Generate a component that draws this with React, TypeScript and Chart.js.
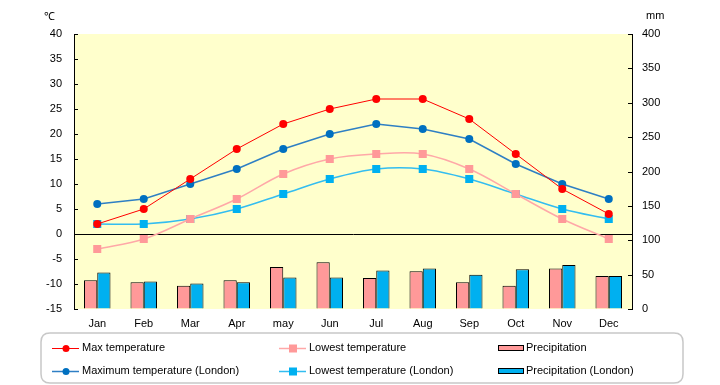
import React, { useEffect, useRef } from "react";
import { Chart, registerables } from "chart.js";

Chart.register(...registerables);

const months = ["Jan", "Feb", "Mar", "Apr", "may", "Jun", "Jul", "Aug", "Sep", "Oct", "Nov", "Dec"];
const maxTemp = [2, 5, 11, 17, 22, 25, 27, 27, 23, 16, 9, 4];
const lowTemp = [-3, -1, 3, 7, 12, 15, 16, 16, 13, 8, 3, -1];
const precip = [42, 39, 34, 42, 61, 68, 45, 55, 39, 34, 59, 48];
const londonMax = [6, 7, 10, 13, 17, 20, 22, 21, 19, 14, 10, 7];
const londonLow = [2, 2, 3, 5, 8, 11, 13, 13, 11, 8, 5, 3];
const londonPrecip = [53, 40, 37, 39, 46, 46, 56, 59, 50, 58, 64, 48];

const tempMin = -15;
const tempMax = 40;
const tempStep = 5;
const precipMin = 0;
const precipMax = 400;
const precipStep = 50;

const FONT = "'Liberation Sans', Arial, sans-serif";

const bgPlugin = {
  id: "plotBg",
  beforeDraw(chart: any) {
    const { ctx, chartArea } = chart;
    ctx.save();
    ctx.fillStyle = "#FFFFCC";
    ctx.fillRect(chartArea.left, chartArea.top, chartArea.right - chartArea.left, chartArea.bottom - chartArea.top);
    ctx.restore();
  },
};

const extrasPlugin = {
  id: "extras",
  afterDraw(chart: any) {
    const { ctx, chartArea } = chart;
    ctx.save();
    // inward tick marks
    ctx.strokeStyle = "#000";
    ctx.lineWidth = 1;
    const y = chart.scales.y;
    const y1 = chart.scales.y1;
    y.ticks.forEach((t: any) => {
      const p = Math.round(y.getPixelForValue(t.value)) + 0.5;
      ctx.beginPath();
      ctx.moveTo(chartArea.left, p);
      ctx.lineTo(chartArea.left + 4, p);
      ctx.stroke();
    });
    y1.ticks.forEach((t: any) => {
      const p = Math.round(y1.getPixelForValue(t.value)) + 0.5;
      ctx.beginPath();
      ctx.moveTo(chartArea.right, p);
      ctx.lineTo(chartArea.right - 4, p);
      ctx.stroke();
    });
    // unit labels
    ctx.fillStyle = "#000";
    ctx.font = `11px ${FONT}`;
    ctx.textBaseline = "middle";
    ctx.textAlign = "left";
    ctx.fillText("℃", 44, 17);
    ctx.fillText("mm", 646, 16);

    // legend box
    ctx.strokeStyle = "#C8C8C8";
    ctx.lineWidth = 1.5;
    const bx = 41, by = 333, bw = 642, bh = 50, r = 9;
    ctx.beginPath();
    ctx.moveTo(bx + r, by);
    ctx.lineTo(bx + bw - r, by);
    ctx.quadraticCurveTo(bx + bw, by, bx + bw, by + r);
    ctx.lineTo(bx + bw, by + bh - r);
    ctx.quadraticCurveTo(bx + bw, by + bh, bx + bw - r, by + bh);
    ctx.lineTo(bx + r, by + bh);
    ctx.quadraticCurveTo(bx, by + bh, bx, by + bh - r);
    ctx.lineTo(bx, by + r);
    ctx.quadraticCurveTo(bx, by, bx + r, by);
    ctx.closePath();
    ctx.stroke();

    // legend items
    const colX = [52, 279, 498];
    const rowY = [348, 371];
    chart.data.datasets.forEach((ds: any, i: number) => {
      const x = colX[i % 3];
      const yy = rowY[Math.floor(i / 3)];
      if (ds.type === "bar") {
        ctx.fillStyle = ds.backgroundColor;
        ctx.fillRect(x, yy - 3, 26, 6);
        ctx.strokeStyle = "#000";
        ctx.lineWidth = 1;
        ctx.strokeRect(x + 0.5, yy - 2.5, 25, 5);
        ctx.fillStyle = "#000";
        ctx.font = `11px ${FONT}`;
        ctx.textBaseline = "middle";
        ctx.fillText(ds.label, x + 28, yy);
      } else {
        ctx.strokeStyle = ds.borderColor;
        ctx.lineWidth = ds.borderWidth;
        ctx.beginPath();
        ctx.moveTo(x, yy + 0.5);
        ctx.lineTo(x + 27, yy + 0.5);
        ctx.stroke();
        ctx.fillStyle = ds.pointBackgroundColor;
        const cx = x + 14;
        if (ds.pointStyle === "rect") {
          ctx.fillRect(cx - 4, yy - 3.5, 8, 8);
        } else {
          ctx.beginPath();
          ctx.arc(cx, yy + 0.5, 3.5, 0, Math.PI * 2);
          ctx.fill();
        }
        ctx.fillStyle = "#000";
        ctx.font = `11px ${FONT}`;
        ctx.textBaseline = "middle";
        ctx.fillText(ds.label, x + 30, yy);
      }
    });
    ctx.restore();
  },
};

export default function App() {
  const ref = useRef<HTMLCanvasElement | null>(null);

  useEffect(() => {
    if (!ref.current) return;
    const lineDs = (label: string, data: number[], color: string, pointColor: string, style: string, width: number, tension: number, radius: number) => ({
      type: "line" as const,
      label,
      data,
      yAxisID: "y",
      borderColor: color,
      borderWidth: width,
      backgroundColor: pointColor,
      pointBackgroundColor: pointColor,
      pointBorderColor: pointColor,
      pointBorderWidth: 0,
      pointStyle: style,
      pointRadius: radius,
      pointHoverRadius: radius,
      tension,
      fill: false,
      order: 1,
    });
    const barDs = (label: string, data: number[], color: string) => ({
      type: "bar" as const,
      label,
      data,
      yAxisID: "y1",
      backgroundColor: color,
      borderColor: "#000",
      borderWidth: 1,
      borderSkipped: "bottom",
      categoryPercentage: 0.57,
      barPercentage: 1,
      order: 2,
    });

    const chart = new Chart(ref.current, {
      type: "bar",
      data: {
        labels: months,
        datasets: [
          lineDs("Max temperature", maxTemp, "#FF0000", "#FF0000", "circle", 1, 0, 4),
          lineDs("Lowest temperature", lowTemp, "#FFA8A8", "#FF9999", "rect", 1.5, 0.35, 5.7),
          barDs("Precipitation", precip, "#FF9999"),
          lineDs("Maximum temperature (London)", londonMax, "#2E7FC4", "#0070C0", "circle", 1.5, 0, 4),
          lineDs("Lowest temperature (London)", londonLow, "#33BDF0", "#00B0F0", "rect", 1.5, 0.35, 5.7),
          barDs("Precipitation (London)", londonPrecip, "#00B0F0"),
        ] as any,
      },
      options: {
        animation: false,
        responsive: false,
        maintainAspectRatio: false,
        layout: { padding: { top: 34, left: 0, right: 0, bottom: 0 } },
        plugins: { legend: { display: false }, tooltip: { enabled: false } },
        scales: {
          x: {
            offset: true,
            grid: { display: false },
            border: { display: false },
            ticks: { color: "#000", font: { family: FONT, size: 11 }, padding: 0, maxRotation: 0 },
            afterFit(scale: any) {
              scale.height = 76;
            },
          },
          y: {
            position: "left",
            min: tempMin,
            max: tempMax,
            ticks: { stepSize: tempStep, color: "#000", font: { family: FONT, size: 11 }, padding: 12 },
            grid: {
              drawTicks: false,
              color: (c: any) => (c.tick && c.tick.value === 0 ? "#000" : "rgba(0,0,0,0)"),
              lineWidth: 1,
            },
            border: { display: true, color: "#000", width: 1 },
            afterFit(scale: any) {
              scale.width = 74;
            },
          },
          y1: {
            position: "right",
            min: precipMin,
            max: precipMax,
            ticks: { stepSize: precipStep, color: "#000", font: { family: FONT, size: 11 }, padding: 10 },
            grid: { drawOnChartArea: false, drawTicks: false },
            border: { display: true, color: "#000", width: 1 },
            afterFit(scale: any) {
              scale.width = 88;
            },
          },
        },
      },
      plugins: [bgPlugin, extrasPlugin],
    } as any);
    return () => chart.destroy();
  }, []);

  return (
    <div style={{ position: "fixed", left: 0, top: 0, width: 720, height: 385, background: "#fff" }}>
      <canvas ref={ref} width={720} height={385} style={{ width: 720, height: 385, display: "block" }} />
    </div>
  );
}
